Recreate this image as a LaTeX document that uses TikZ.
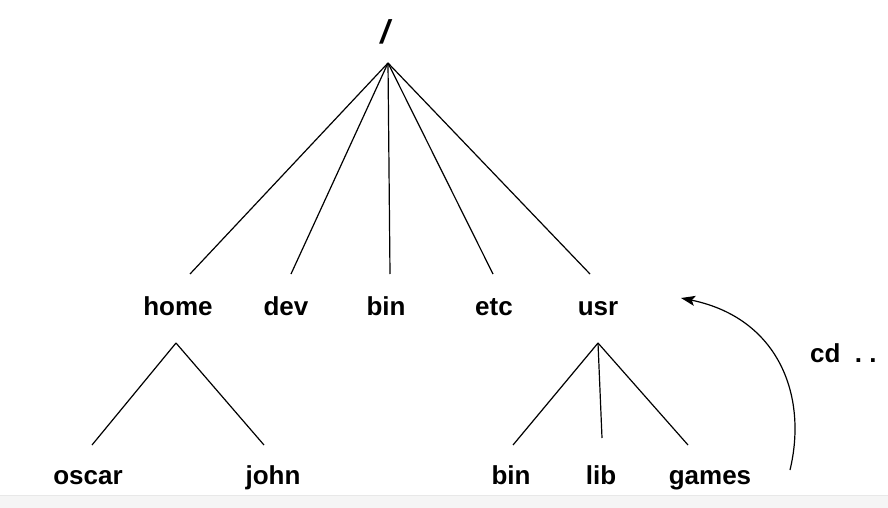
\documentclass[tikz,border=0pt]{standalone}
\usepackage{fontspec}
\setmainfont{Liberation Sans}
\usetikzlibrary{arrows.meta}
\begin{document}
\begin{tikzpicture}[x=1pt,y=-1pt,
  lbl/.style={font=\fontsize{26}{28}\selectfont\bfseries, anchor=base, inner sep=0pt},
  edge/.style={line width=1.2pt, black},
  curarrow/.style={line width=1.2pt, -{Stealth[length=14pt,width=10pt,inset=3pt]}}]
\useasboundingbox (0,0) rectangle (888,508);
\fill[white] (0,0) rectangle (888,508);
\fill[gray!8] (0,495) rectangle (888,508);
\draw[gray!18, line width=0.6pt] (0,495) -- (888,495);
% labels
\node[lbl, font=\fontsize{33}{36}\selectfont\bfseries\itshape] (root) at (385,44) {/};
\node[lbl] (home) at (178,315) {home};
\node[lbl] (dev) at (286,315) {dev};
\node[lbl] (bin) at (386,315) {bin};
\node[lbl] (etc) at (494,315) {etc};
\node[lbl] (usr) at (598,315) {usr};
\node[lbl] (oscar) at (88,484) {oscar};
\node[lbl] (john) at (273,484) {john};
\node[lbl] (ubin) at (511,484) {bin};
\node[lbl] (ulib) at (601,484) {lib};
\node[lbl] (games) at (710,484) {games};
\node[lbl, anchor=base west] (cd) at (810,362) {cd\ \ .\ .};
% connection points
\coordinate (rootapex) at (388,63);
\coordinate (homein) at (190,274);
\coordinate (devin) at (291,274);
\coordinate (binin) at (390,274);
\coordinate (etcin) at (493,274);
\coordinate (usrin) at (590,274);
\coordinate (homeapex) at (176,343);
\coordinate (oscarin) at (92,445);
\coordinate (johnin) at (264,445);
\coordinate (usrapex) at (598,343);
\coordinate (ubinin) at (513,445);
\coordinate (ulibin) at (602,438);
\coordinate (gamesin) at (688,445);
\coordinate (arrstart) at (790,470);
\coordinate (arrend) at (681,298);
% edges
\foreach \c in {homein,devin,binin,etcin,usrin}
  \draw[edge] (rootapex) -- (\c);
\foreach \c in {oscarin,johnin}
  \draw[edge] (homeapex) -- (\c);
\foreach \c in {ubinin,ulibin,gamesin}
  \draw[edge] (usrapex) -- (\c);
\draw[curarrow] (arrstart) .. controls (808,395) and (778,318) .. (arrend);
\end{tikzpicture}
\end{document}
